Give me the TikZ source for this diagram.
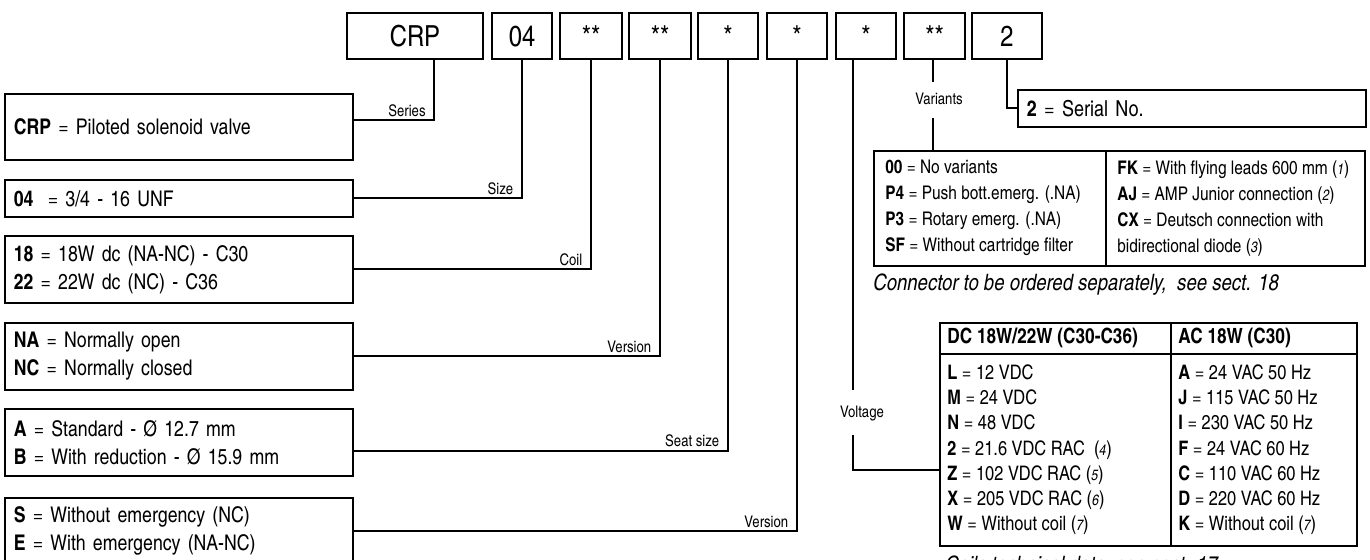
\documentclass[tikz,border=0pt]{standalone}
\usepackage{fontspec}
\setmainfont{texgyreheroscn}[Extension=.otf, UprightFont=*-regular, BoldFont=*-bold, ItalicFont=*-italic, BoldItalicFont=*-bolditalic]
\newcommand{\fnref}[1]{{\itshape\fontsize{7.5}{8}\selectfont #1}}
\tikzset{
  codebox/.style={draw, line width=0.8pt, inner sep=0pt, minimum height=23pt, text height=10.4pt, text depth=0pt, font=\fontsize{14.5}{15}\selectfont},
  descbox/.style={draw, line width=0.8pt, anchor=north west, inner xsep=4.5pt, inner ysep=0pt, text width=165pt, align=left, minimum height=33.5pt, font=\fontsize{10.8}{14}\selectfont},
  fieldlbl/.style={anchor=south east, inner xsep=4pt, inner ysep=1.5pt, font=\fontsize{8}{9}\selectfont},
  cellbox/.style={draw, line width=0.8pt, anchor=north west, inner sep=0pt},
  celltext/.style={anchor=west, inner sep=0pt, align=left},
  link/.style={line width=0.8pt}
}
\begin{document}
\begin{tikzpicture}[x=0.5pt, y=-0.5pt]
\useasboundingbox (0,0) rectangle (1370,560);
\clip (0,0) rectangle (1370,560);

\node[codebox, minimum width=68pt] (cCRP) at (415,36) {CRP};
\node[codebox, minimum width=30pt] (cSize) at (522,36) {04};
\node[codebox, minimum width=31pt] (cCoil) at (591,36) {**};
\node[codebox, minimum width=31pt] (cVers) at (660,36) {**};
\node[codebox, minimum width=30pt] (cSeat) at (728,36) {*};
\node[codebox, minimum width=30pt] (cEmerg) at (797,36) {*};
\node[codebox, minimum width=30pt] (cVolt) at (866,36) {*};
\node[codebox, minimum width=30.5pt] (cVar) at (934.5,36) {**};
\node[codebox, minimum width=35pt] (cSer) at (1007,36) {2};

\node[descbox, minimum height=33pt] (dCRP) at (4,93) {\textbf{CRP} = Piloted solenoid valve};
\node[descbox, minimum height=18.5pt] (dSize) at (4,179) {\textbf{04}\ \ = 3/4 - 16 UNF};
\node[descbox] (dCoil) at (4,235) {\textbf{18} = 18W dc (NA-NC) - C30\\ \textbf{22} = 22W dc (NC) - C36};
\node[descbox] (dVers) at (4,322) {\textbf{NA} = Normally open\\ \textbf{NC} = Normally closed};
\node[descbox] (dSeat) at (4,408) {\textbf{A} = Standard - Ø 12.7 mm\\ \textbf{B} = With reduction - Ø 15.9 mm};
\node[descbox] (dEmerg) at (4,497) {\textbf{S} = Without emergency (NC)\\ \textbf{E} = With emergency (NA-NC)};
\node[descbox, minimum height=18.5pt, font=\fontsize{11}{13}\selectfont] (dSer) at (1017,89) {\textbf{2} = Serial No.};

\coordinate (kSeries) at (434,120);
\draw[link] (cCRP.south -| kSeries) -- (kSeries) -- (kSeries -| dCRP.east);
\node[fieldlbl] at (kSeries) {Series};
\draw[link] (cSize.south) |- (dSize.east) node[fieldlbl, pos=0.5] {Size};
\draw[link] (cCoil.south) |- (dCoil.east) node[fieldlbl, pos=0.5] {Coil};
\draw[link] (cVers.south) |- (dVers.east) node[fieldlbl, pos=0.5] {Version};
\draw[link] (cSeat.south) |- ([yshift=-4.25pt]dSeat.east) node[fieldlbl, pos=0.5] {Seat size};
\draw[link] (cEmerg.south) |- (dEmerg.east) node[fieldlbl, pos=0.5] {Version};
\draw[link] (cSer.south) |- (dSer.west);

\node[cellbox, minimum width=116pt, minimum height=57.5pt] (vL) at (873,150) {};
\node[cellbox, minimum width=129.5pt, minimum height=57.5pt] (vR) at (1105,150) {};
\node[celltext, font=\fontsize{9.4}{13}\selectfont] at ([xshift=6pt]vL.west) {\textbf{00} = No variants\\ \textbf{P4} = Push bott.emerg. (.NA)\\ \textbf{P3} = Rotary emerg. (.NA)\\ \textbf{SF} = Without cartridge filter};
\node[celltext, font=\fontsize{9.4}{13}\selectfont] at ([xshift=6pt]vR.west) {\textbf{FK} = With flying leads 600 mm (\fnref{1})\\ \textbf{AJ} = AMP Junior connection (\fnref{2})\\ \textbf{CX} = Deutsch connection with\\ bidirectional diode (\fnref{3})};
\node[anchor=north west, inner sep=0pt, font=\itshape\fontsize{11.3}{12}\selectfont] at ([yshift=-3.5pt]vL.south west) {Connector to be ordered separately,\ \ see sect. 18};

\node[inner xsep=0pt, inner ysep=5pt, text height=6pt, text depth=1.7pt, font=\fontsize{8}{9}\selectfont] (lVar) at (939,100) {Variants};
\draw[link] (cVar.south -| 933,0) -- (933,82);
\draw[link] (933,118) -- (vL.north -| 933,0);

\node[cellbox, minimum width=115.5pt, minimum height=15.5pt] (hDC) at (939,322) {};
\node[cellbox, minimum width=93pt, minimum height=15.5pt] (hAC) at (1170,322) {};
\node[cellbox, minimum width=115.5pt, minimum height=96pt] (bDC) at (939,353) {};
\node[cellbox, minimum width=93pt, minimum height=96pt] (bAC) at (1170,353) {};
\node[celltext, font=\bfseries\fontsize{10.5}{11}\selectfont] at ([xshift=4pt]hDC.west) {DC 18W/22W (C30-C36)};
\node[celltext, font=\bfseries\fontsize{10.5}{11}\selectfont] at ([xshift=4pt]hAC.west) {AC 18W (C30)};
\node[celltext, font=\fontsize{10}{12.65}\selectfont] at ([xshift=4pt]bDC.west) {\textbf{L} = 12 VDC\\ \textbf{M} = 24 VDC\\ \textbf{N} = 48 VDC\\ \textbf{2} = 21.6 VDC RAC\ \ (\fnref{4})\\ \textbf{Z} = 102 VDC RAC (\fnref{5})\\ \textbf{X} = 205 VDC RAC (\fnref{6})\\ \textbf{W} = Without coil (\fnref{7})};
\node[celltext, font=\fontsize{10}{12.65}\selectfont] at ([xshift=4pt]bAC.west) {\textbf{A} = 24 VAC 50 Hz\\ \textbf{J} = 115 VAC 50 Hz\\ \textbf{I} = 230 VAC 50 Hz\\ \textbf{F} = 24 VAC 60 Hz\\ \textbf{C} = 110 VAC 60 Hz\\ \textbf{D} = 220 VAC 60 Hz\\ \textbf{K} = Without coil (\fnref{7})};
\node[anchor=north west, inner sep=0pt, font=\itshape\fontsize{11.3}{12}\selectfont] at ([xshift=3pt, yshift=-4.5pt]bDC.south west) {Coils technical data, see sect. 17};

\node[inner xsep=0pt, inner ysep=7.2pt, text height=6pt, text depth=1.7pt, font=\fontsize{8}{9}\selectfont] (lVolt) at (862,413) {Voltage};
\coordinate (kVolt) at (853,470);
\draw[link] (cVolt.south -| kVolt) -- (kVolt |- lVolt.north);
\draw[link] (kVolt |- lVolt.south) -- (kVolt) -- (kVolt -| bDC.west);
\end{tikzpicture}
\end{document}
